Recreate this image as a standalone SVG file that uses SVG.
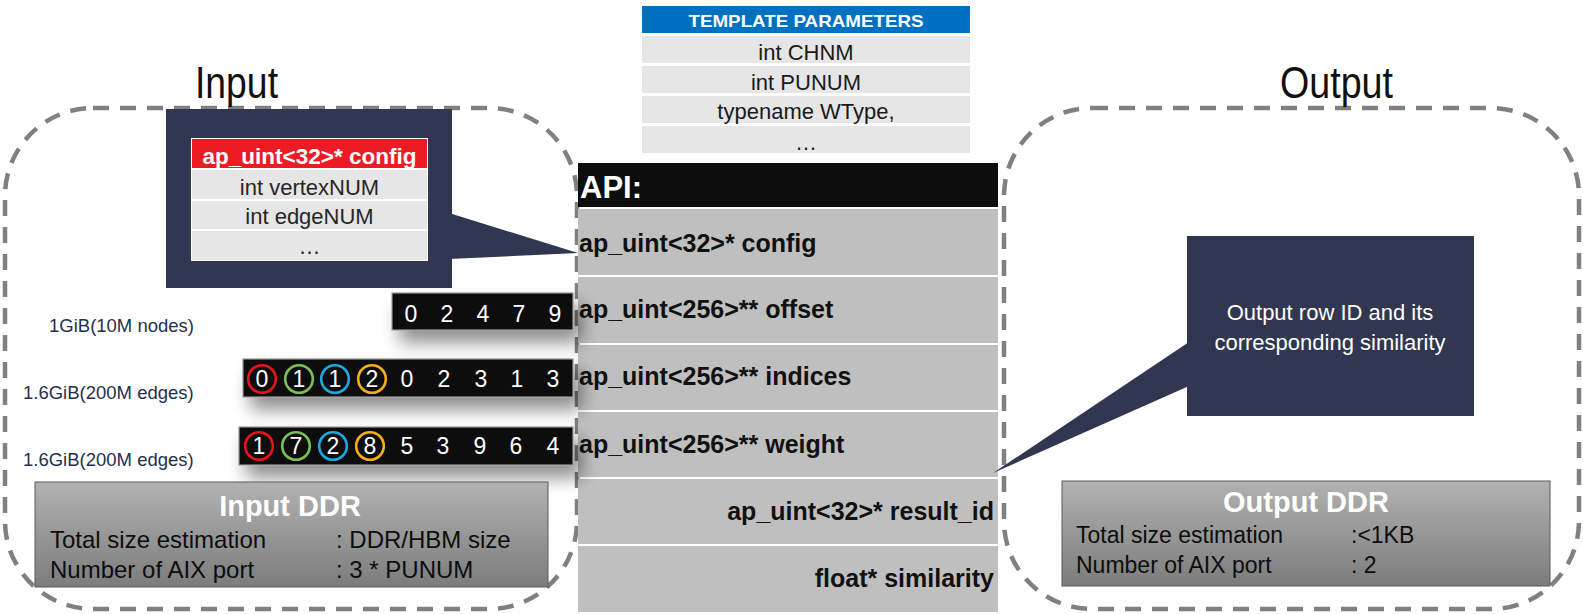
<svg xmlns="http://www.w3.org/2000/svg" width="1583" height="614" viewBox="0 0 1583 614">
<style>
.dash{fill:none;stroke:#808080;stroke-width:4.5;stroke-dasharray:16 11}
.title{font-family:"Liberation Sans",Arial,sans-serif;font-size:45px;fill:#111}
.tp{font-family:"Liberation Sans",Arial,sans-serif;font-size:22px;fill:#1a1a1a;text-anchor:middle}
.tph{font-family:"Liberation Sans",Arial,sans-serif;font-size:17px;font-weight:bold;fill:#fff;text-anchor:middle}
.row{fill:#E6E6E6}
.arow{fill:#BFBFBF}
.api{font-family:"Liberation Sans",Arial,sans-serif;font-size:25px;font-weight:bold;fill:#111}
.navy{fill:#313750}
.lbl{font-family:"Liberation Sans",Arial,sans-serif;font-size:18.5px;fill:#1F3050}
.dig{font-family:"Liberation Sans",Arial,sans-serif;font-size:23px;fill:#fff;text-anchor:middle}
.strip{fill:#0b0d0b;stroke:#9a9a9a;stroke-width:1.2}
.ddr{stroke:#5a5a5a;stroke-width:1}
.ddrt{font-family:"Liberation Sans",Arial,sans-serif;font-size:29px;font-weight:bold;fill:#fff;text-anchor:middle}
.ddrl{font-family:"Liberation Sans",Arial,sans-serif;fill:#0d0d0d}
.callt{font-family:"Liberation Sans",Arial,sans-serif;font-size:22px;fill:#fff;text-anchor:middle}
.cin{font-family:"Liberation Sans",Arial,sans-serif;font-size:22px;fill:#262626;text-anchor:middle}
</style>
<defs>
<linearGradient id="gddr" x1="0" y1="0" x2="0" y2="1">
<stop offset="0" stop-color="#B2B2B2"/>
<stop offset="1" stop-color="#7C7C7C"/>
</linearGradient>
<filter id="sh" x="-20%" y="-80%" width="150%" height="350%">
<feGaussianBlur in="SourceAlpha" stdDeviation="9"/>
<feOffset dx="8" dy="12"/>
<feComponentTransfer><feFuncA type="linear" slope="0.45"/></feComponentTransfer>
<feMerge><feMergeNode/><feMergeNode in="SourceGraphic"/></feMerge>
</filter>
</defs>
<rect width="1583" height="614" fill="#fff"/>

<g id="input-frame">
<rect class="dash" x="5" y="108" width="572" height="501" rx="88" ry="88"/>
<text class="title" x="195" y="98" textLength="83" lengthAdjust="spacingAndGlyphs">Input</text>
</g>
<g id="output-frame">
<rect class="dash" x="1004" y="108" width="575" height="501" rx="88" ry="88"/>
<text class="title" x="1280" y="98" textLength="113" lengthAdjust="spacingAndGlyphs">Output</text>
</g>

<g id="template-params">
<rect x="642" y="6" width="328" height="27" fill="#0070C0"/>
<text class="tph" x="806" y="27" textLength="235" lengthAdjust="spacingAndGlyphs">TEMPLATE PARAMETERS</text>
<rect class="row" x="642" y="36" width="328" height="27"/>
<rect class="row" x="642" y="66" width="328" height="27"/>
<rect class="row" x="642" y="96" width="328" height="27"/>
<rect class="row" x="642" y="126" width="328" height="27"/>
<text class="tp" x="806" y="60">int CHNM</text>
<text class="tp" x="806" y="90">int PUNUM</text>
<text class="tp" x="806" y="119">typename WType,</text>
<text class="tp" x="806" y="150">…</text>
</g>

<g id="api">
<rect x="578" y="163" width="420" height="44" fill="#0D0D0D"/>
<text x="580" y="198" font-family="Liberation Sans, Arial, sans-serif" font-size="31" font-weight="bold" fill="#fff">API:</text>
<rect class="arow" x="578" y="209" width="420" height="66"/>
<rect class="arow" x="578" y="277" width="420" height="66"/>
<rect class="arow" x="578" y="345" width="420" height="65"/>
<rect class="arow" x="578" y="412" width="420" height="65"/>
<rect class="arow" x="578" y="479" width="420" height="65"/>
<rect class="arow" x="578" y="546" width="420" height="66"/>
<text class="api" x="579" y="252">ap_uint&lt;32&gt;* config</text>
<text class="api" x="579" y="318">ap_uint&lt;256&gt;** offset</text>
<text class="api" x="579" y="385">ap_uint&lt;256&gt;** indices</text>
<text class="api" x="579" y="453">ap_uint&lt;256&gt;** weight</text>
<text class="api" x="994" y="520" text-anchor="end">ap_uint&lt;32&gt;* result_id</text>
<text class="api" x="994" y="587" text-anchor="end">float* similarity</text>
</g>

<g id="connectors">
<polygon class="navy" points="449,213 578,253 449,259"/>
<polygon class="navy" points="1189,342 993,473 1189,386"/>
</g>

<g id="input-callout">
<rect class="navy" x="166" y="109" width="286" height="179"/>
<rect x="191" y="138" width="237" height="123" fill="#fff"/>
<rect x="192" y="139" width="235" height="29" fill="#ED1C24"/>
<text x="309.5" y="164" font-family="Liberation Sans, Arial, sans-serif" font-size="22.5" font-weight="bold" fill="#fff" text-anchor="middle">ap_uint&lt;32&gt;* config</text>
<rect x="191" y="168" width="237" height="2" fill="#fff"/>
<rect class="row" x="192" y="170" width="235" height="29"/>
<rect class="row" x="192" y="201" width="235" height="28"/>
<rect class="row" x="192" y="231" width="235" height="29"/>
<text class="cin" x="309.5" y="195">int vertexNUM</text>
<text class="cin" x="309.5" y="224">int edgeNUM</text>
<text class="cin" x="309.5" y="254">…</text>
</g>

<g id="output-callout">
<rect class="navy" x="1187" y="236" width="287" height="180"/>
<text class="callt" x="1330" y="320">Output row ID and its</text>
<text class="callt" x="1330" y="350">corresponding similarity</text>
</g>

<g id="offset-strip">
<rect class="strip" x="392" y="293" width="181" height="37" filter="url(#sh)"/>
<text class="dig" x="411" y="322">0</text>
<text class="dig" x="447" y="322">2</text>
<text class="dig" x="483" y="322">4</text>
<text class="dig" x="519" y="322">7</text>
<text class="dig" x="555" y="322">9</text>
</g>
<g id="indices-strip">
<rect class="strip" x="243" y="359" width="330" height="38" filter="url(#sh)"/>
<circle cx="262" cy="379" r="13.8" fill="none" stroke="#E8141B" stroke-width="2.6"/>
<circle cx="299" cy="379" r="13.8" fill="none" stroke="#7DBE55" stroke-width="2.6"/>
<circle cx="335" cy="379" r="13.8" fill="none" stroke="#1EA8DF" stroke-width="2.6"/>
<circle cx="372" cy="379" r="13.8" fill="none" stroke="#F6AE1B" stroke-width="2.6"/>
<text class="dig" x="262" y="387">0</text>
<text class="dig" x="299" y="387">1</text>
<text class="dig" x="335" y="387">1</text>
<text class="dig" x="372" y="387">2</text>
<text class="dig" x="407" y="387">0</text>
<text class="dig" x="444" y="387">2</text>
<text class="dig" x="481" y="387">3</text>
<text class="dig" x="517" y="387">1</text>
<text class="dig" x="553" y="387">3</text>
</g>
<g id="weight-strip">
<rect class="strip" x="239" y="427" width="334" height="38" filter="url(#sh)"/>
<circle cx="259" cy="446" r="13.8" fill="none" stroke="#E8141B" stroke-width="2.6"/>
<circle cx="296" cy="446" r="13.8" fill="none" stroke="#7DBE55" stroke-width="2.6"/>
<circle cx="333" cy="446" r="13.8" fill="none" stroke="#1EA8DF" stroke-width="2.6"/>
<circle cx="370" cy="446" r="13.8" fill="none" stroke="#F6AE1B" stroke-width="2.6"/>
<text class="dig" x="259" y="454">1</text>
<text class="dig" x="296" y="454">7</text>
<text class="dig" x="333" y="454">2</text>
<text class="dig" x="370" y="454">8</text>
<text class="dig" x="407" y="454">5</text>
<text class="dig" x="443" y="454">3</text>
<text class="dig" x="480" y="454">9</text>
<text class="dig" x="516" y="454">6</text>
<text class="dig" x="553" y="454">4</text>
</g>

<g id="labels">
<text class="lbl" x="49" y="332">1GiB(10M nodes)</text>
<text class="lbl" x="23" y="399">1.6GiB(200M edges)</text>
<text class="lbl" x="23" y="466">1.6GiB(200M edges)</text>
</g>

<g id="input-ddr">
<rect class="ddr" x="35" y="482" width="513" height="105" fill="url(#gddr)"/>
<text class="ddrt" x="290" y="516">Input DDR</text>
<text class="ddrl" x="50" y="548" font-size="24">Total size estimation</text>
<text class="ddrl" x="336" y="548" font-size="24">: DDR/HBM size</text>
<text class="ddrl" x="50" y="578" font-size="24">Number of AIX port</text>
<text class="ddrl" x="336" y="578" font-size="24">: 3 * PUNUM</text>
</g>

<g id="output-ddr">
<rect class="ddr" x="1062" y="481" width="488" height="105" fill="url(#gddr)"/>
<text class="ddrt" x="1306" y="512">Output DDR</text>
<text class="ddrl" x="1076" y="543" font-size="23">Total size estimation</text>
<text class="ddrl" x="1351" y="543" font-size="23">:&lt;1KB</text>
<text class="ddrl" x="1076" y="573" font-size="23">Number of AIX port</text>
<text class="ddrl" x="1351" y="573" font-size="23">: 2</text>
</g>
</svg>
